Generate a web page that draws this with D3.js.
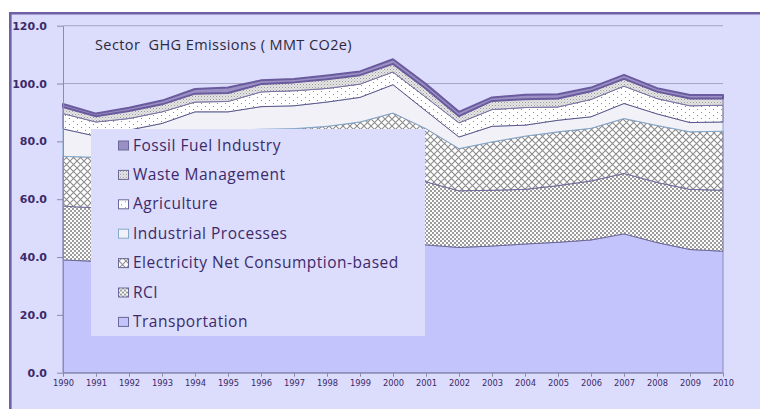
<!DOCTYPE html>
<html lang="en">
<head>
<meta charset="utf-8">
<script src="https://cdn.jsdelivr.net/npm/d3@7"></script>
<title>Sector GHG Emissions</title>
<style>
  body { margin: 0; background: #ffffff; overflow: hidden; }
  svg { display: block; }
</style>
</head>
<body>
<div id="chart"></div>
<script>
// values (MMT CO2e), bottom layer first
var years = ["1990","1991","1992","1993","1994","1995","1996","1997","1998","1999","2000",
             "2001","2002","2003","2004","2005","2006","2007","2008","2009","2010"];
var transportation = [39.0,38.5,39.5,40.0,41.0,41.5,42.5,43.0,43.5,44.5,45.0,44.2,43.3,43.8,44.5,45.1,45.9,48.0,45.0,42.6,42.0];
var rci            = [18.6,18.5,18.5,18.5,18.5,18.5,19.0,18.5,18.5,19.0,21.5,21.8,19.6,19.3,18.9,19.6,20.4,20.9,20.8,20.8,21.1];
var electricity    = [17.2,17.5,18.0,19.5,22.5,23.8,22.7,22.9,23.2,23.2,23.3,18.4,14.6,16.7,18.4,18.6,18.2,19.0,19.7,19.9,20.4];
var industrial     = [9.5,7.3,7.9,8.2,8.2,6.4,7.8,7.9,8.4,8.5,9.8,6.1,4.0,5.4,3.8,4.0,4.0,5.2,4.0,3.2,3.2];
var agriculture    = [5.3,4.9,4.0,4.0,3.4,3.6,5.1,5.2,4.7,4.6,4.4,4.7,4.9,5.8,6.1,4.6,6.0,6.0,5.3,5.8,5.8];
var waste          = [2.3,2.0,2.6,2.6,2.9,2.9,2.7,2.9,3.2,3.1,2.8,3.0,2.3,3.0,2.9,2.9,2.8,2.5,2.4,2.5,2.3];
var fossilFuel     = [1.0,0.9,1.1,1.3,1.6,1.9,1.3,1.2,1.3,1.3,1.6,1.6,1.5,1.2,1.5,1.5,1.3,1.4,1.2,1.2,1.2];

var seriesNames = ["Transportation","RCI","Electricity Net Consumption-based","Industrial Processes",
                   "Agriculture","Waste Management","Fossil Fuel Industry"];
var seriesValues = [transportation, rci, electricity, industrial, agriculture, waste, fossilFuel];
var yTicks = [0, 20, 40, 60, 80, 100, 120];
var title = "Sector  GHG Emissions ( MMT CO2e)";

var rows = years.map(function(yr, i) {
    var r = {year: yr};
    seriesNames.forEach(function(n, k) { r[n] = seriesValues[k][i]; });
    return r;
});

var fills = ["#c4c4fc", "url(#pChecker)", "url(#pDiamond)", "#f1f1f7",
             "url(#pSparse)", "url(#pDots)", "#9a90c4"];
var strokes = ["#8a86c0", "#6a6896", "#6e6c9a", "#86aacb", "#5c5688", "#7a76a6", "#6a5a9e"];
var strokeW = [1, 1, 1, 1, 1, 1, 2];

var svg = d3.select("#chart").append("svg")
    .attr("width", 760)
    .attr("height", 409);

// chart background + frame (only top and left edges are in view)
svg.append("rect")
    .attr("x", 10.3).attr("y", 13.3)
    .attr("width", 760).attr("height", 409)
    .attr("fill", "#dcdcfc");
svg.append("path")
    .attr("d", "M10.3,409V13.3H760")
    .attr("fill", "none")
    .attr("stroke", "#6f5fa3")
    .attr("stroke-width", 2.6);

// fill patterns
var defs = svg.append("defs");
var p1 = defs.append("pattern").attr("id", "pChecker").attr("patternUnits", "userSpaceOnUse")
    .attr("width", 4).attr("height", 4);
p1.append("rect").attr("width", 4).attr("height", 4).attr("fill", "#ffffff");
p1.append("rect").attr("width", 2).attr("height", 2).attr("fill", "#9c9c9c");
p1.append("rect").attr("x", 2).attr("y", 2).attr("width", 2).attr("height", 2).attr("fill", "#9c9c9c");

var p2 = defs.append("pattern").attr("id", "pDiamond").attr("patternUnits", "userSpaceOnUse")
    .attr("width", 7).attr("height", 7);
p2.append("rect").attr("width", 7).attr("height", 7).attr("fill", "#ffffff");
p2.append("path").attr("d", "M0,0L7,7M7,0L0,7").attr("stroke", "#8c8c8c").attr("stroke-width", 1.1);

var p3 = defs.append("pattern").attr("id", "pSparse").attr("patternUnits", "userSpaceOnUse")
    .attr("width", 8).attr("height", 6);
p3.append("rect").attr("width", 8).attr("height", 6).attr("fill", "#ffffff");
p3.append("rect").attr("x", 1).attr("y", 1).attr("width", 1).attr("height", 1).attr("fill", "#8a8a8a");
p3.append("rect").attr("x", 5).attr("y", 4).attr("width", 1).attr("height", 1).attr("fill", "#8a8a8a");

var p4 = defs.append("pattern").attr("id", "pDots").attr("patternUnits", "userSpaceOnUse")
    .attr("width", 3).attr("height", 3);
p4.append("rect").attr("width", 3).attr("height", 3).attr("fill", "#e6e6e6");
p4.append("rect").attr("width", 1).attr("height", 1).attr("fill", "#9a9a9a");
p4.append("rect").attr("x", 1.5).attr("y", 1.5).attr("width", 1).attr("height", 1).attr("fill", "#b0b0b0");

var x = d3.scalePoint().domain(years).range([63, 723]);
var y = d3.scaleLinear().domain([0, 120]).range([372.7, 25.7]);

// gridlines
svg.append("g").selectAll("line")
    .data(yTicks.filter(function(t) { return t > 0; }))
    .enter().append("line")
        .attr("x1", 63).attr("x2", 723)
        .attr("y1", function(d) { return y(d); })
        .attr("y2", function(d) { return y(d); })
        .attr("stroke", "#a6a6c4")
        .attr("stroke-width", 1);

// stacked areas
var stack = d3.stack().keys(seriesNames);
var layers = stack(rows);
var area = d3.area()
    .x(function(d) { return x(d.data.year); })
    .y0(function(d) { return y(d[0]); })
    .y1(function(d) { return y(d[1]); });

svg.append("g").selectAll("path")
    .data(layers)
    .enter().append("path")
        .attr("d", area)
        .attr("fill", function(d, i) { return fills[i]; })
        .attr("stroke", function(d, i) { return strokes[i]; })
        .attr("stroke-width", function(d, i) { return strokeW[i]; })
        .attr("stroke-linejoin", "round");

// axes
var yAxis = svg.append("g")
    .attr("transform", "translate(63,0)")
    .call(d3.axisLeft(y).tickValues(yTicks).tickFormat(d3.format(".1f")).tickSize(6).tickSizeOuter(0).tickPadding(10));
yAxis.select(".domain").attr("stroke", "#8c8ca8");
yAxis.selectAll(".tick line").attr("stroke", "#8c8ca8");
yAxis.selectAll(".tick text")
    .attr("fill", "#3c2a6a")
    .style("font-family", "'DejaVu Sans', Verdana, sans-serif")
    .style("font-size", "11px")
    .style("font-weight", "bold");

var xAxis = svg.append("g")
    .attr("transform", "translate(0," + y(0) + ")")
    .call(d3.axisBottom(x).tickSize(4).tickSizeOuter(0).tickPadding(3));
xAxis.select(".domain").attr("stroke", "#8c8ca8");
xAxis.selectAll(".tick line").attr("stroke", "#8c8ca8");
xAxis.selectAll(".tick text")
    .attr("fill", "#3c2a6a")
    .style("font-family", "'DejaVu Sans', Verdana, sans-serif")
    .style("font-size", "8.3px");

// title
svg.append("text")
    .attr("x", 95).attr("y", 49.5)
    .style("white-space", "pre")
    .style("font-family", "'Open Sans', sans-serif")
    .style("font-size", "14.5px")
    .style("letter-spacing", "0.4px")
    .attr("fill", "#2a2a3c")
    .text(title);

// legend
var legend = svg.append("g");
legend.append("rect")
    .attr("x", 91).attr("y", 129)
    .attr("width", 334).attr("height", 207)
    .attr("fill", "#dcdcfc");

var legendOrder = d3.range(seriesNames.length).reverse();
var item = legend.selectAll("g.item")
    .data(legendOrder)
    .enter().append("g")
        .attr("class", "item")
        .attr("transform", function(d, j) { return "translate(0," + (150.5 + j * 29.4) + ")"; });
item.append("rect")
    .attr("x", 118.5).attr("y", -9.5)
    .attr("width", 10).attr("height", 9)
    .attr("fill", function(i) { return fills[i]; })
    .attr("stroke", function(i) { return i === 3 ? "#86aacb" : "#6a6896"; })
    .attr("stroke-width", 1);
item.append("text")
    .attr("x", 133).attr("y", 0)
    .style("font-family", "'Open Sans', sans-serif")
    .style("font-size", "15.5px")
    .style("letter-spacing", "0.5px")
    .attr("fill", "#3c2a6a")
    .text(function(i) { return seriesNames[i]; });
</script>
</body>
</html>
